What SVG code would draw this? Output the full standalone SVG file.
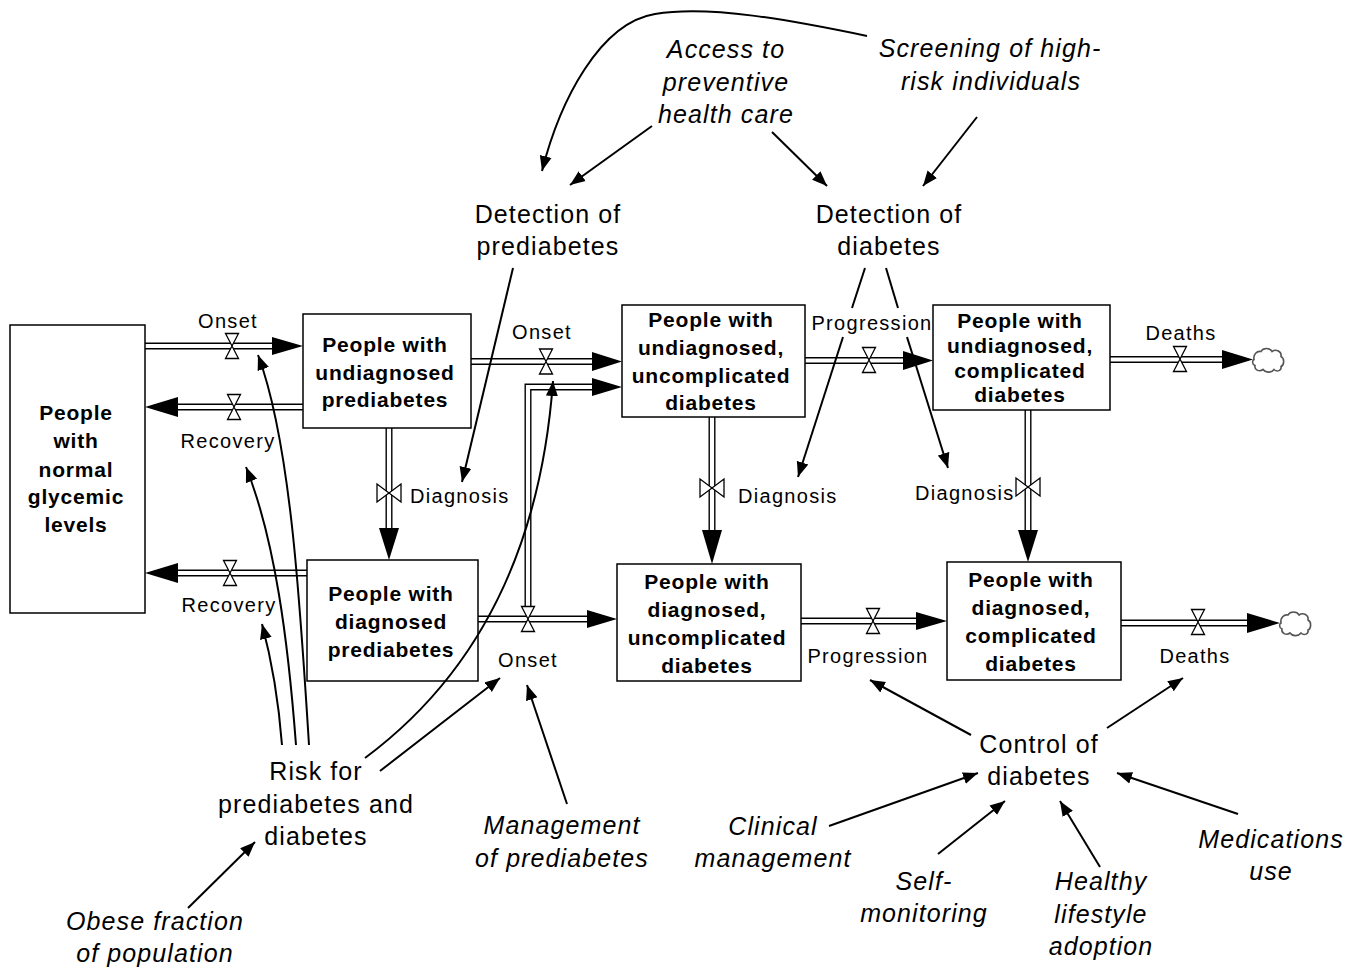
<svg xmlns="http://www.w3.org/2000/svg" width="1356" height="967" viewBox="0 0 1356 967">
<style>
text{font-family:"Liberation Sans",Arial,sans-serif;fill:#000}
.box{fill:#fff;stroke:#000;stroke-width:1.5}
.bt{font-weight:bold;font-size:21px;letter-spacing:0.8px;text-anchor:middle}
.sl{font-size:20px;letter-spacing:1.3px;text-anchor:middle}
.ss{font-size:20px;letter-spacing:1.3px;text-anchor:start}
.lg{font-size:25px;letter-spacing:1.1px;text-anchor:middle}
.it{font-style:italic}
.po{fill:none;stroke:#000;stroke-width:7;stroke-linejoin:miter}
.pi{fill:none;stroke:#fff;stroke-width:4.2;stroke-linejoin:miter}
.ah{fill:#000}
.valve{fill:#fff;stroke:#000;stroke-width:1.3}
.cloud{fill:#fff;stroke:#555;stroke-width:1.6}
.lk{fill:none;stroke:#000;stroke-width:2;marker-end:url(#arr)}
.ln{fill:none;stroke:#000;stroke-width:2}
</style>
<defs>
<marker id="arr" markerUnits="userSpaceOnUse" markerWidth="16" markerHeight="13" refX="15" refY="6.5" orient="auto">
<path d="M0,0.5 L15,6.5 L0,12.5 Z" fill="#000"/>
</marker>
<path id="vv" class="valve" d="M-6.5,-12.5 L6.5,-12.5 L-6.5,12.5 L6.5,12.5 Z"/>
<path id="vh" class="valve" d="M-12,-9 L-12,9 L12,-9 L12,9 Z"/>
<path id="cl" class="cloud" d="M0,0 C-1,-5 3,-9 7,-8 C9,-12 16,-12 18,-8 C22,-11 28,-8 27,-3 C31,-1 30,6 27,7 C28,11 23,13 20,10 C17,14 11,13 9,10 C5,13 0,10 1,6 C-2,5 -2,1 0,0 Z"/>
</defs>
<rect width="1356" height="967" fill="#fff"/>

<g id="flows">
<path class="po" d="M145,346 L274,346"/><path class="pi" d="M145,346 L274,346"/>
<polygon class="ah" points="272,337 303,346 272,355"/>
<path class="po" d="M303,407 L176,407"/><path class="pi" d="M303,407 L176,407"/>
<polygon class="ah" points="178,397 145,407 178,417"/>
<path class="po" d="M307,573 L176,573"/><path class="pi" d="M307,573 L176,573"/>
<polygon class="ah" points="178,563 145,573 178,583"/>
<path class="po" d="M389,428 L389,530"/><path class="pi" d="M389,428 L389,530"/>
<polygon class="ah" points="379,528 389,560 399,528"/>
<path class="po" d="M471,361.5 L594,361.5"/><path class="pi" d="M471,361.5 L594,361.5"/>
<polygon class="ah" points="592,352 622,361.5 592,371"/>
<path class="po" d="M478,619 L589,619"/><path class="pi" d="M478,619 L589,619"/>
<polygon class="ah" points="587,610 617,619 587,628"/>
<path class="po" d="M528,607 L528,387 L594,387"/><path class="pi" d="M528,607 L528,387 L594,387"/>
<polygon class="ah" points="592,378 622,387 592,396"/>
<path class="po" d="M805,360.5 L905,360.5"/><path class="pi" d="M805,360.5 L905,360.5"/>
<polygon class="ah" points="903,351 933,360.5 903,370"/>
<path class="po" d="M1110,359.5 L1224,359.5"/><path class="pi" d="M1110,359.5 L1224,359.5"/>
<polygon class="ah" points="1222,350 1253,359.5 1222,369"/>
<use href="#cl" x="1254" y="359.5"/>
<path class="po" d="M712,417 L712,532"/><path class="pi" d="M712,417 L712,532"/>
<polygon class="ah" points="702,530 712,564 722,530"/>
<path class="po" d="M1028,410 L1028,532"/><path class="pi" d="M1028,410 L1028,532"/>
<polygon class="ah" points="1018,530 1028,562 1038,530"/>
<path class="po" d="M801,621 L918,621"/><path class="pi" d="M801,621 L918,621"/>
<polygon class="ah" points="916,612 947,621 916,630"/>
<path class="po" d="M1121,623 L1249,623"/><path class="pi" d="M1121,623 L1249,623"/>
<polygon class="ah" points="1247,613 1280,623 1247,633"/>
<use href="#cl" x="1281" y="623"/>
<use href="#vv" x="232" y="346"/>
<use href="#vv" x="234" y="407"/>
<use href="#vv" x="230" y="573"/>
<use href="#vh" x="389" y="493"/>
<use href="#vv" x="546" y="361.5"/>
<use href="#vv" x="528" y="619"/>
<use href="#vv" x="869" y="360"/>
<use href="#vv" x="1180" y="359"/>
<use href="#vh" x="712" y="488"/>
<use href="#vh" x="1028" y="487"/>
<use href="#vv" x="873" y="621"/>
<use href="#vv" x="1198" y="622"/>
</g>

<g id="n-normal"><rect class="box" x="10" y="325" width="135" height="288"/>
<text class="bt" x="76" y="420">People</text><text class="bt" x="76" y="448">with</text><text class="bt" x="76" y="477">normal</text><text class="bt" x="76" y="504">glycemic</text><text class="bt" x="76" y="532">levels</text></g>
<g id="n-undiag-prediab"><rect class="box" x="303" y="314" width="168" height="114"/>
<text class="bt" x="385" y="352">People with</text><text class="bt" x="385" y="380">undiagnosed</text><text class="bt" x="385" y="407">prediabetes</text></g>
<g id="n-diag-prediab"><rect class="box" x="307" y="560" width="171" height="121"/>
<text class="bt" x="391" y="601">People with</text><text class="bt" x="391" y="629">diagnosed</text><text class="bt" x="391" y="657">prediabetes</text></g>
<g id="n-undiag-uncomp"><rect class="box" x="622" y="305" width="183" height="112"/>
<text class="bt" x="711" y="327">People with</text><text class="bt" x="711" y="355">undiagnosed,</text><text class="bt" x="711" y="383">uncomplicated</text><text class="bt" x="711" y="410">diabetes</text></g>
<g id="n-undiag-comp"><rect class="box" x="933" y="305" width="177" height="105"/>
<text class="bt" x="1020" y="328">People with</text><text class="bt" x="1020" y="353">undiagnosed,</text><text class="bt" x="1020" y="378">complicated</text><text class="bt" x="1020" y="402">diabetes</text></g>
<g id="n-diag-uncomp"><rect class="box" x="617" y="564" width="184" height="117"/>
<text class="bt" x="707" y="589">People with</text><text class="bt" x="707" y="617">diagnosed,</text><text class="bt" x="707" y="645">uncomplicated</text><text class="bt" x="707" y="673">diabetes</text></g>
<g id="n-diag-comp"><rect class="box" x="947" y="562" width="174" height="118"/>
<text class="bt" x="1031" y="587">People with</text><text class="bt" x="1031" y="615">diagnosed,</text><text class="bt" x="1031" y="643">complicated</text><text class="bt" x="1031" y="671">diabetes</text></g>

<g id="flow-labels">
<text class="sl" x="228" y="328">Onset</text>
<text class="sl" x="228" y="448">Recovery</text>
<text class="sl" x="229" y="612">Recovery</text>
<text class="ss" x="410" y="503">Diagnosis</text>
<text class="sl" x="542" y="339">Onset</text>
<text class="sl" x="528" y="667">Onset</text>
<text class="sl" x="872" y="330">Progression</text>
<text class="sl" x="1181" y="340">Deaths</text>
<text class="ss" x="738" y="503">Diagnosis</text>
<text class="ss" x="915" y="500">Diagnosis</text>
<text class="sl" x="868" y="663">Progression</text>
<text class="sl" x="1195" y="663">Deaths</text>
</g>

<g id="n-access"><text class="lg it" x="726" y="58">Access to</text><text class="lg it" x="726" y="91">preventive</text><text class="lg it" x="726" y="123">health care</text></g>
<g id="n-screening"><text class="lg it" x="990" y="57">Screening of high-</text><text class="lg it" x="991" y="90">risk individuals</text></g>
<g id="n-detect-prediab"><text class="lg" x="548" y="223">Detection of</text><text class="lg" x="548" y="255">prediabetes</text></g>
<g id="n-detect-diab"><text class="lg" x="889" y="223">Detection of</text><text class="lg" x="889" y="255">diabetes</text></g>
<g id="n-risk"><text class="lg" x="316" y="780">Risk for</text><text class="lg" x="316" y="813">prediabetes and</text><text class="lg" x="316" y="845">diabetes</text></g>
<g id="n-management"><text class="lg it" x="562" y="834">Management</text><text class="lg it" x="562" y="867">of prediabetes</text></g>
<g id="n-obese"><text class="lg it" x="155" y="930">Obese fraction</text><text class="lg it" x="155" y="962">of population</text></g>
<g id="n-control"><text class="lg" x="1039" y="753">Control of</text><text class="lg" x="1039" y="785">diabetes</text></g>
<g id="n-clinical"><text class="lg it" x="773" y="835">Clinical</text><text class="lg it" x="773" y="867">management</text></g>
<g id="n-self"><text class="lg it" x="924" y="890">Self-</text><text class="lg it" x="924" y="922">monitoring</text></g>
<g id="n-healthy"><text class="lg it" x="1101" y="890">Healthy</text><text class="lg it" x="1101" y="923">lifestyle</text><text class="lg it" x="1101" y="955">adoption</text></g>
<g id="n-medications"><text class="lg it" x="1271" y="848">Medications</text><text class="lg it" x="1271" y="880">use</text></g>

<g id="links">
<path class="lk" d="M867,36 C790,20 710,5 655,14 C600,23 560,100 542,171"/>
<path class="lk" d="M652,126 L570,185"/>
<path class="lk" d="M772,132 L827,186"/>
<path class="lk" d="M977,117 L923,186"/>
<path class="lk" d="M513,268 L462,482"/>
<path class="ln" d="M865,268 L852,308"/>
<path class="lk" d="M843,337 L798,477"/>
<path class="ln" d="M886,268 L898,308"/>
<path class="lk" d="M907,337 L948,468"/>
<path class="lk" d="M282,745 Q277,680 262,624"/>
<path class="lk" d="M296,745 C288,640 275,540 246,467"/>
<path class="lk" d="M309,745 C300,600 290,440 258,355"/>
<path class="lk" d="M365,758 C470,680 540,560 553,381"/>
<path class="lk" d="M380,771 L500,678"/>
<path class="lk" d="M567,804 L527,685"/>
<path class="lk" d="M188,908 L255,842"/>
<path class="lk" d="M971,735 L870,680"/>
<path class="lk" d="M1107,728 L1183,678"/>
<path class="lk" d="M829,826 L978,773"/>
<path class="lk" d="M938,854 L1005,801"/>
<path class="lk" d="M1100,867 L1060,801"/>
<path class="lk" d="M1238,814 L1117,773"/>
</g>
</svg>
